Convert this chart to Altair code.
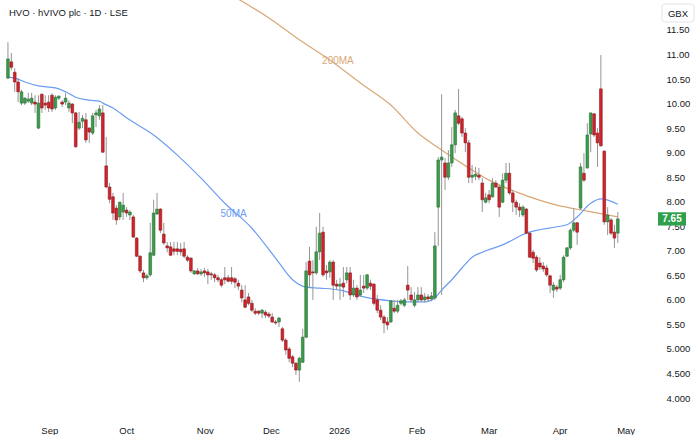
import altair as alt
import pandas as pd

# ---------------- data ----------------
opens = [10.52,10.85,10.64,10.44,10.01,10.01,10.05,10.01,10.03,9.50,
         10.19,10.01,10.03,10.17,9.91,10.11,10.03,10.03,9.91,9.99,
         9.81,9.50,9.64,9.67,9.50,9.40,9.77,9.75,9.81,8.73,
         8.30,8.10,7.87,7.69,7.79,7.83,7.73,7.69,7.26,6.89,
         6.55,6.45,6.51,6.91,7.75,7.85,7.34,7.10,7.08,7.04,
         7.04,7.03,7.04,6.87,6.85,6.53,6.59,6.53,6.59,6.57,
         6.53,6.51,6.45,6.41,6.45,6.45,6.45,6.43,6.34,6.20,
         6.00,6.06,5.93,5.77,5.77,5.73,5.75,5.71,5.65,5.55,
         5.55,5.41,5.18,5.00,4.84,4.71,4.57,4.73,5.24,6.79,
         6.57,6.55,6.98,7.38,6.59,6.57,6.77,6.32,6.28,6.34,
         6.41,6.55,6.10,6.24,6.10,6.28,6.24,6.34,6.32,6.00,
         5.79,5.65,5.55,5.55,5.83,5.77,5.93,5.89,6.30,6.10,
         5.89,6.00,6.10,6.00,6.06,6.02,6.04,7.89,8.85,8.79,
         8.50,8.79,9.16,9.75,9.69,9.40,9.20,8.50,8.52,8.54,
         8.38,7.99,8.14,8.10,8.38,8.30,7.99,8.44,8.58,8.18,
         7.99,7.89,7.73,7.85,7.36,6.97,6.87,6.75,6.69,6.65,
         6.49,6.20,6.26,6.24,6.41,6.89,7.06,7.42,7.57,7.87,
         8.58,8.69,9.38,9.79,9.40,10.30,9.03,7.59,7.63,7.38,
         7.36]
closes = [10.91,10.74,10.44,10.24,10.24,10.11,10.09,10.11,9.99,10.01,
          9.91,9.97,9.91,9.89,10.13,10.15,9.99,10.11,10.01,9.81,
          9.12,9.62,9.70,9.26,9.42,9.75,9.81,9.89,9.01,8.30,
          8.05,7.77,7.63,7.99,7.93,7.77,7.79,7.28,6.89,6.59,
          6.45,6.49,6.96,7.77,7.85,7.42,7.16,7.06,6.91,6.99,
          6.99,6.98,6.89,6.81,6.59,6.59,6.53,6.57,6.55,6.51,
          6.51,6.45,6.41,6.30,6.41,6.38,6.38,6.36,6.28,6.04,
          5.85,5.93,5.79,5.73,5.73,5.79,5.69,5.67,5.55,5.53,
          5.63,5.18,4.98,4.81,4.71,4.57,4.81,5.24,6.59,6.51,
          6.55,6.98,7.36,6.51,6.55,6.77,6.30,6.28,6.32,6.26,
          6.55,6.10,6.24,6.06,6.20,6.24,6.51,6.28,5.93,5.79,
          5.65,5.53,5.49,5.98,5.77,5.89,5.98,6.00,6.20,6.00,
          6.00,6.10,6.00,6.06,6.02,6.08,7.10,8.85,8.91,8.50,
          8.79,9.16,9.81,9.60,9.40,9.20,8.50,8.54,8.56,8.50,
          8.04,8.08,8.04,8.38,8.30,7.89,8.44,8.58,8.18,7.99,
          7.89,7.83,7.89,7.36,6.87,6.85,6.61,6.67,6.63,6.51,
          6.30,6.30,6.22,6.41,6.87,7.06,7.42,7.57,7.38,8.71,
          8.44,9.36,9.81,9.36,9.20,9.14,7.59,7.73,7.36,7.26,
          7.65]
highs = [11.25,11.03,10.72,10.52,10.28,10.13,10.22,10.22,10.17,10.17,
         10.21,10.17,10.17,10.21,10.17,10.17,10.07,10.22,10.07,10.01,
         9.83,9.83,9.77,9.81,9.52,9.81,9.87,9.97,9.97,9.32,
         8.38,8.18,7.93,8.00,8.18,7.89,7.83,7.73,7.28,6.91,
         6.61,6.53,7.57,8.04,8.18,7.87,7.57,7.18,7.18,7.18,
         7.18,7.16,7.18,6.91,6.87,6.61,6.65,6.63,6.65,6.63,
         6.57,6.55,6.51,6.45,6.67,6.51,6.67,6.47,6.41,6.30,
         6.30,6.14,6.00,5.83,5.79,5.81,5.79,5.75,5.73,5.59,
         5.65,5.45,5.22,5.04,4.88,4.73,4.84,5.41,6.77,7.08,
         6.81,7.49,7.77,7.49,6.71,6.81,6.81,6.41,6.45,6.67,
         6.67,6.67,6.41,6.30,6.51,6.51,6.53,6.41,6.34,6.10,
         5.89,5.69,5.65,6.00,6.00,6.00,6.02,6.04,6.69,6.26,
         6.16,6.26,6.26,6.14,6.12,6.16,7.38,8.91,10.19,8.89,
         9.05,9.52,9.87,10.30,9.73,9.50,9.26,8.75,8.71,8.69,
         8.48,8.18,8.24,8.48,8.44,8.34,8.58,8.79,8.79,8.24,
         8.04,7.97,7.93,7.87,7.38,7.02,6.91,6.87,6.77,6.71,
         6.51,6.36,6.30,6.51,6.91,7.08,7.46,7.87,7.59,8.79,
         8.99,9.60,9.81,9.81,9.50,10.99,9.05,7.89,7.67,7.53,
         7.79]
lows = [10.50,10.68,10.24,10.03,9.97,9.97,10.01,9.97,9.81,9.48,
        9.81,9.87,9.83,9.83,9.87,10.07,9.93,9.97,9.83,9.60,
        9.10,9.46,9.50,9.20,9.20,9.36,9.52,9.67,8.99,8.28,
        7.97,7.63,7.53,7.63,7.63,7.69,7.63,7.26,6.87,6.55,
        6.36,6.41,6.47,6.89,7.73,7.36,7.12,6.97,6.89,6.91,
        6.91,6.90,6.85,6.77,6.55,6.51,6.51,6.49,6.47,6.32,
        6.41,6.36,6.36,6.26,6.32,6.36,6.32,6.24,6.20,5.95,
        5.83,5.89,5.75,5.69,5.69,5.63,5.63,5.63,5.53,5.49,
        5.45,5.14,4.88,4.73,4.63,4.47,4.33,4.71,5.22,6.26,
        6.00,6.51,6.81,6.47,6.41,6.45,6.00,6.20,6.00,6.06,
        6.34,6.00,6.06,6.00,6.06,6.14,6.20,6.20,5.89,5.73,
        5.59,5.32,5.39,5.53,5.73,5.73,5.89,5.85,6.00,5.95,
        5.85,5.95,5.95,5.95,5.97,5.97,6.00,7.10,6.10,8.24,
        8.44,8.71,8.99,9.56,9.32,9.01,8.38,8.38,8.44,8.44,
        7.79,7.97,7.97,8.08,8.28,7.69,7.97,8.38,8.14,7.79,
        7.73,7.69,7.69,7.34,6.85,6.75,6.57,6.61,6.57,6.47,
        6.14,6.04,6.16,6.20,6.36,6.87,7.02,7.38,7.12,7.83,
        8.40,8.67,9.01,9.32,8.71,9.12,7.53,7.32,7.32,7.06,
        7.16]

# month labels and the bar position where each month starts
month_pos = [12.2, 34.9, 58.1, 77.6, 97.7, 120.6, 141.9, 162.8, 182.3]
month_lbl = ["Sep", "Oct", "Nov", "Dec", "2026", "Feb", "Mar", "Apr", "May"]

# moving averages (bar index, value)
ma50_idx = [0, 2, 5, 9, 14, 17, 20, 24, 27, 28, 31, 35, 43, 50, 57, 64, 72, 79, 84, 88,
            92, 98, 105, 113, 118, 123, 126, 128, 131, 134, 137, 140, 146, 153, 162, 165,
            168, 172, 175, 180]
ma50_val = [10.54, 10.52, 10.44, 10.36, 10.32, 10.24, 10.13, 10.07, 10.05, 10.01, 9.91, 9.71,
            9.36, 8.95, 8.48, 7.97, 7.46, 6.85, 6.41, 6.26, 6.24, 6.20, 6.06, 5.98, 5.96, 5.96,
            6.04, 6.20, 6.41, 6.65, 6.87, 6.97, 7.12, 7.36, 7.49, 7.53, 7.69, 7.97, 8.06, 7.95]
ma200_idx = [66, 78, 86, 95, 104, 113, 121, 127, 136, 142, 150, 162, 171, 180]
ma200_val = [12.21, 11.70, 11.30, 10.89, 10.42, 9.97, 9.40, 9.10, 8.69, 8.44, 8.20, 7.93,
             7.81, 7.69]

price_ticks = [4.0, 4.5, 5.0, 5.5, 6.0, 6.5, 7.0, 7.5, 8.0, 8.5, 9.0, 9.5, 10.0, 10.5, 11.0, 11.5]
last_price = 7.65
title_text = "HVO · hVIVO plc · 1D · LSE"
currency = "GBX"

# ---------------- styling ----------------
GREEN = "#3b9c4c"
GREEN_EDGE = "#2b6f36"
RED = "#d3232b"
RED_EDGE = "#861a1e"
WICK = "#959595"
BLUE = "#6c9cf3"
TAN = "#d9a877"
TXT = "#131722"
FONT = "Liberation Sans"

df = pd.DataFrame({
    "i": list(range(len(closes))),
    "open": opens, "high": highs, "low": lows, "close": closes,
})
df["dir"] = ["up" if c >= o else "down" for o, c in zip(opens, closes)]

xs = alt.Scale(domain=[-0.87, 189.5], nice=False, zero=False)
ys = alt.Scale(domain=[3.593, 12.111], nice=False, zero=False)

label_expr = " : ".join(
    f"datum.value == {p} ? '{l}'" for p, l in zip(month_pos, month_lbl)
) + " : ''"
price_expr = "datum.value < 5.25 ? format(datum.value, '.3f') : format(datum.value, '.2f')"

x_axis = alt.Axis(values=month_pos, labelExpr=label_expr, domain=False, ticks=False,
                  grid=False, title=None, labelFont=FONT, labelFontSize=9.5,
                  labelColor=TXT, labelPadding=7, labelFlush=False)
y_axis = alt.Axis(orient="right", values=price_ticks, labelExpr=price_expr, domain=False,
                  ticks=False, grid=False, title=None, labelFont=FONT, labelFontSize=9.5,
                  labelColor=TXT, labelPadding=11, labelAlign="left")


def X(field):
    return alt.X(field, scale=xs, axis=x_axis)


def Y(field):
    return alt.Y(field, scale=ys, axis=y_axis)


base = alt.Chart(df)
wicks = base.mark_rule(color=WICK, strokeWidth=1).encode(
    x=X("i:Q"), y=Y("low:Q"), y2="high:Q",
)
bodies = base.mark_bar(size=2.7, strokeWidth=0.6).encode(
    x=X("i:Q"), y=Y("open:Q"), y2="close:Q",
    fill=alt.Fill("dir:N", scale=alt.Scale(domain=["up", "down"], range=[GREEN, RED]), legend=None),
    stroke=alt.Stroke("dir:N", scale=alt.Scale(domain=["up", "down"], range=[GREEN_EDGE, RED_EDGE]), legend=None),
)

ma50 = alt.Chart(pd.DataFrame({"i": ma50_idx, "v": ma50_val})).mark_line(
    color=BLUE, strokeWidth=1.2, clip=True, interpolate="monotone"
).encode(x=X("i:Q"), y=Y("v:Q"))
ma200 = alt.Chart(pd.DataFrame({"i": ma200_idx, "v": ma200_val})).mark_line(
    color=TAN, strokeWidth=1.2, clip=True, interpolate="monotone"
).encode(x=X("i:Q"), y=Y("v:Q"))

ma_labels = alt.Chart(pd.DataFrame({
    "i": [97.4, 66.6], "v": [10.86, 7.75], "t": ["200MA", "50MA"], "c": ["200", "50"]
})).mark_text(font=FONT, fontSize=10).encode(
    x=X("i:Q"), y=Y("v:Q"), text="t:N",
    color=alt.Color("c:N", scale=alt.Scale(domain=["200", "50"], range=[TAN, BLUE]), legend=None),
)

tag_df = pd.DataFrame({"p": [last_price], "t": [f"{last_price:.2f}"]})
tag_box = alt.Chart(tag_df).transform_calculate(
    top="datum.p + 0.135", bot="datum.p - 0.135"
).mark_rect(color="#2e9f4b").encode(
    x=alt.value(658), x2=alt.value(686), y=Y("top:Q"), y2="bot:Q",
)
tag_txt = alt.Chart(tag_df).mark_text(color="white", font=FONT, fontSize=10, fontWeight="bold").encode(
    x=alt.value(672), y=Y("p:Q"), text="t:N"
)

one = pd.DataFrame({"t": [currency]})
gbx_box = alt.Chart(one).mark_rect(fill="white", stroke="#e0e3eb", strokeWidth=1, cornerRadius=3).encode(
    x=alt.value(662), x2=alt.value(694), y=alt.value(4), y2=alt.value(22)
)
gbx_txt = alt.Chart(one).mark_text(font=FONT, fontSize=9.5, color=TXT).encode(
    x=alt.value(678), y=alt.value(13.5), text="t:N"
)
title = alt.Chart(pd.DataFrame({"t": [title_text]})).mark_text(
    font=FONT, fontSize=9.5, color=TXT, align="left"
).encode(x=alt.value(9), y=alt.value(13), text="t:N")

chart = alt.layer(
    ma200, ma50, wicks, bodies, ma_labels, tag_box, tag_txt, gbx_box, gbx_txt, title
).properties(width=655, height=418, padding=0, background="white").configure_view(stroke=None)

chart.save("out.html", embed_options={"renderer": "svg", "actions": False})
